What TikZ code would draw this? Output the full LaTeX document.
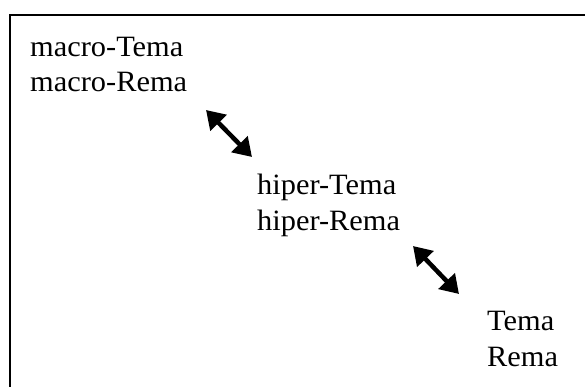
\documentclass[tikz,border=0pt]{standalone}
\usepackage{fontspec}
\setmainfont{Liberation Serif}[FakeStretch=1.03]
\usetikzlibrary{arrows.meta}
\begin{document}
\begin{tikzpicture}[x=1pt,y=-1pt,
  lbl/.style={anchor=base west,inner sep=0pt,align=left,
    font=\fontsize{29.5}{35.5}\selectfont},
  dbl/.style={line width=4.5pt,{Triangle[length=18pt,width=22pt]}-{Triangle[length=18pt,width=22pt]}}]
\useasboundingbox (0,0) rectangle (585,387);
\begin{scope}
\clip (0,0) rectangle (585,387);
\draw[line width=2pt] (10,15) rectangle (620,420);
\end{scope}
\node[lbl] (macro) at (30,92) {macro-Tema\\macro-Rema};
\node[lbl] (hiper) at (257,230) {hiper-Tema\\hiper-Rema};
\node[lbl] (base) at (487,366) {Tema\\Rema};
\coordinate (a1) at (206,110);
\coordinate (a2) at (252,157);
\coordinate (b1) at (413,246);
\coordinate (b2) at (459,294);
\draw[dbl] (a1) -- (a2);
\draw[dbl] (b1) -- (b2);
\end{tikzpicture}
\end{document}
